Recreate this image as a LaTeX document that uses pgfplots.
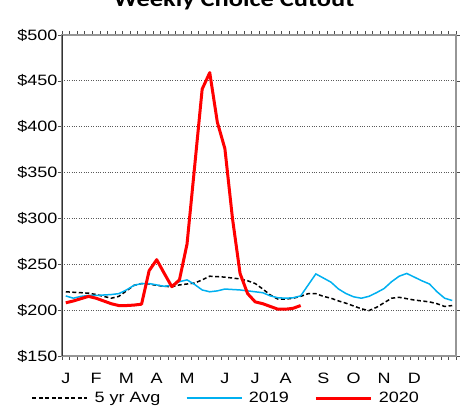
\documentclass[border=0pt]{standalone}
\usepackage{fontspec}
\setmainfont{Liberation Sans}[FakeStretch=1.2]
\newfontfamily\titlefont{Carlito}[FakeStretch=1.2]
\usepackage{pgfplots}
\pgfplotsset{compat=1.18}
\definecolor{excelblue}{RGB}{0,176,240}
\definecolor{framegray}{RGB}{150,150,150}

\begin{document}
\begin{tikzpicture}
\begin{axis}[
  at={(0,0)}, anchor=south west,
  scale only axis, width=394pt, height=321pt,
  xmin=0.5, xmax=52.5, ymin=150, ymax=500,
  ytick={150,200,...,500},
  yticklabels={\$150,\$200,\$250,\$300,\$350,\$400,\$450,\$500},
  yticklabel style={xshift=3pt},
  xtick={0.5,1.5,...,52.5}, xticklabels={},
  extra x ticks={1,5,9,13,17,22,26,30,35,39,43,47},
  extra x tick labels={J,F,M,A,M,J,J,A,S,O,N,D},
  extra x tick style={major tick length=0pt, grid=none, xticklabel style={yshift=-14pt}},
  tick align=outside,
  major tick length=4pt,
  tick style={black!70, line width=0.6pt},
  ymajorgrids=true,
  grid style={dotted, black!65, line width=0.8pt},
  axis line style={draw=framegray, line width=1.5pt},
  ticklabel style={font=\fontsize{15}{18}\selectfont},
  legend columns=3,
  legend style={at={(axis description cs:-0.085,-0.131)}, anchor=west, draw=none, fill=none,
    font=\fontsize{15}{18}\selectfont,
    nodes={inner sep=1.5pt},
    /tikz/every even column/.append style={column sep=24pt}},
  legend image code/.code={\draw[#1] (0pt,0pt) -- (55pt,0pt); \path (60pt,0pt);},
]
\addplot[black, line width=1.5pt, dash pattern=on 4pt off 2.5pt] coordinates {
(1,220)(2,219.5)(3,219)(4,218.5)(5,217)(6,215)(7,213)(8,215)(9,221)(10,227)
(11,229)(12,228.5)(13,227)(14,226)(15,225.5)(16,227.5)(17,228.5)(18,229.5)(19,233)(20,237)
(21,236.5)(22,236)(23,235)(24,234)(25,232)(26,229)(27,223)(28,216.5)(29,212)(30,212)
(31,213)(32,215)(33,218)(34,218)(35,215)(36,213)(37,210)(38,207.5)(39,204.5)(40,201.5)
(41,199.5)(42,203)(43,208)(44,213)(45,214)(46,212.5)(47,211)(48,210)(49,209)(50,207)
(51,204)(52,205)};
\addlegendentry{5 yr Avg}
\addplot[excelblue, line width=1.5pt] coordinates {
(1,215.5)(2,213)(3,215)(4,216)(5,216)(6,216.5)(7,217)(8,218)(9,222)(10,227)
(11,229)(12,229)(13,227.5)(14,226)(15,227)(16,231)(17,233)(18,228)(19,222)(20,220)
(21,221)(22,223)(23,222.5)(24,222)(25,221)(26,220)(27,219)(28,215.5)(29,213.5)(30,213)
(31,213.5)(32,215.5)(33,227.5)(34,239.5)(35,235)(36,230.5)(37,223)(38,218)(39,214.5)(40,213)
(41,215)(42,219)(43,223.5)(44,231)(45,237)(46,240)(47,236)(48,232)(49,228.5)(50,220)
(51,213)(52,210.5)};
\addlegendentry{2019}
\addplot[red, line width=3pt, line join=round] coordinates {
(1,208)(2,210)(3,212.5)(4,215)(5,213)(6,210)(7,207)(8,205)(9,205)(10,205.5)
(11,206.5)(12,243)(13,255)(14,240)(15,225.5)(16,233)(17,272)(18,356)(19,441)(20,459)
(21,405)(22,376)(23,300)(24,240)(25,218)(26,209)(27,207)(28,204)(29,201)(30,201)
(31,202)(32,205)};
\addlegendentry{2020}
\draw[black!80, line width=1.5pt] (rel axis cs:0,1) -- (rel axis cs:0,0);
\end{axis}
\node[font=\titlefont\bfseries\fontsize{22}{26}\selectfont, anchor=base] at (172pt,349pt) {Weekly Choice Cutout};
\pgfresetboundingbox
\useasboundingbox (-62pt,-50pt) rectangle (413pt,356pt);
\end{tikzpicture}
\end{document}
